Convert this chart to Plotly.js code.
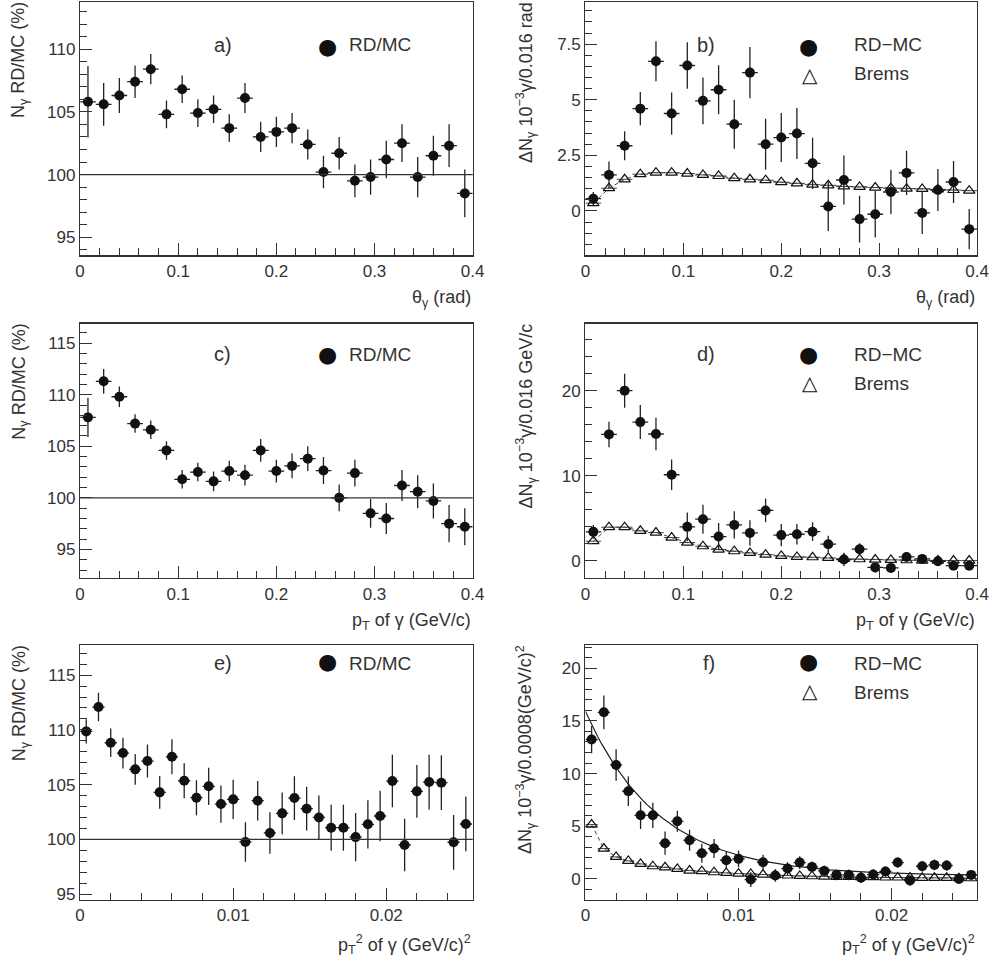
<!DOCTYPE html>
<html><head><meta charset="utf-8">
<script src="https://cdn.plot.ly/plotly-3.0.1.min.js"></script>
<style>body{margin:0;background:#fff}#plot{width:989px;height:960px}</style>
</head><body><div id="plot"></div>
<script>
// bin centres
const theta = [];
for (let i = 0; i < 25; i++) theta.push(+(0.008 + 0.016 * i).toFixed(3));
const pt2 = [];
for (let i = 0; i < 32; i++) pt2.push(+(0.0004 + 0.0008 * i).toFixed(4));

// a) RD/MC vs theta
const aVal = [105.8,105.6,106.3,107.4,108.4,104.8,106.8,104.9,105.2,103.7,106.1,103.0,103.4,103.7,102.4,100.2,101.7,99.5,99.8,101.2,102.5,99.8,101.5,102.3,98.5];
const aErr = [2.85,1.7,1.4,1.3,1.2,1.1,1.1,1.1,1.1,1.1,1.2,1.2,1.2,1.2,1.2,1.3,1.3,1.3,1.4,1.5,1.5,1.6,1.6,1.7,1.9];
// b) RD-MC and Brems vs theta
const bVal = [0.55,1.62,2.93,4.6,6.73,4.38,6.54,4.95,5.45,3.9,6.22,3.0,3.3,3.48,2.14,0.2,1.39,-0.37,-0.15,0.85,1.71,-0.09,0.94,1.3,-0.82];
const bErr = [0.3,0.6,0.65,0.75,0.9,0.95,1.05,1.05,1.1,1.1,1.15,1.15,1.1,1.15,1.15,1.1,1.1,1.05,1.05,1.0,1.0,0.95,0.95,0.95,0.9];
const bBrems = [0.35,1.02,1.42,1.65,1.72,1.72,1.68,1.62,1.57,1.47,1.42,1.38,1.29,1.24,1.18,1.15,1.1,1.08,1.05,1.02,1.0,0.99,0.97,0.94,0.91];
// c) RD/MC vs pT
const cVal = [107.8,111.3,109.8,107.2,106.6,104.6,101.8,102.5,101.6,102.6,102.2,104.6,102.6,103.1,103.8,102.65,100.0,102.4,98.5,98.0,101.2,100.6,99.7,97.5,97.2];
const cErr = [1.9,1.2,1.0,0.9,0.9,0.9,0.9,0.9,0.95,1.0,1.0,1.1,1.1,1.2,1.2,1.3,1.3,1.3,1.4,1.5,1.5,1.6,1.7,1.8,1.8];
// d) RD-MC and Brems vs pT
const dVal = [3.38,14.85,20.0,16.3,14.9,10.1,3.97,4.87,2.83,4.2,3.26,5.9,3.0,3.1,3.4,1.93,0.12,1.34,-0.8,-0.86,0.43,0.2,-0.08,-0.6,-0.6];
const dErr = [0.8,1.5,2.0,2.0,1.9,1.8,1.7,1.7,1.6,1.6,1.5,1.4,1.3,1.2,1.1,1.0,0.8,0.7,0.6,0.5,0.4,0.3,0.3,0.3,0.3];
const dBrems = [2.28,3.93,3.93,3.5,3.3,2.71,2.12,1.69,1.3,1.1,0.9,0.7,0.55,0.43,0.39,0.31,0.2,0.16,0.12,0.08,0.04,0,0,0,0];
// e) RD/MC vs pT^2
const eVal = [109.86,112.08,108.82,107.88,106.39,107.15,104.29,107.54,105.35,103.8,104.84,103.22,103.65,99.76,103.53,100.58,102.37,103.77,102.8,102.0,101.06,101.06,100.2,101.37,102.13,105.32,99.48,104.38,105.23,105.17,99.73,101.4];
const eErr = [1.1,1.3,1.3,1.4,1.4,1.5,1.5,1.6,1.6,1.6,1.7,1.7,1.8,1.8,1.8,1.9,1.9,2.0,2.0,2.0,2.1,2.1,2.2,2.2,2.3,2.4,2.4,2.4,2.5,2.5,2.5,2.5];
// f) RD-MC and Brems vs pT^2
const fVal = [13.23,15.82,10.82,8.32,6.04,6.04,3.39,5.47,3.67,2.44,2.88,1.77,1.9,-0.06,1.58,0.32,0.98,1.55,1.14,0.76,0.38,0.38,0.1,0.41,0.7,1.55,-0.16,1.2,1.33,1.27,0,0.38];
const fErr = [1.3,1.6,1.5,1.4,1.3,1.2,1.1,1.0,1.0,0.9,0.9,0.8,0.8,0.7,0.7,0.6,0.6,0.6,0.5,0.5,0.5,0.5,0.5,0.5,0.5,0.5,0.5,0.5,0.5,0.5,0.4,0.4];
const fBrems = [5.16,2.88,2.09,1.71,1.42,1.2,1.1,0.95,0.79,0.73,0.63,0.57,0.5,0.47,0.41,0.35,0.32,0.28,0.25,0.22,0.19,0.19,0.16,0.16,0.13,0.13,0.13,0.1,0.1,0.1,0.06,0.06];
// exponential fit on f): A*exp(-x/tau)+c
const fitA = 15.6, fitTau = 0.0048, fitC = 0.3;
const fitX = [];
for (let i = 0; i <= 128; i++) fitX.push(i * 0.0002);
const fitY = fitX.map(x => fitA * Math.exp(-x / fitTau) + fitC);

const FONT = 'Liberation Sans, Arial, sans-serif';
const txt = {family: FONT, size: 17, color: '#333'};

function pts(x, y, err, halfBin, ax) {
  return {x: x, y: y, xaxis: 'x' + ax, yaxis: 'y' + ax, type: 'scatter', mode: 'markers',
    marker: {symbol: 'circle', size: 10, color: '#111'},
    error_y: {type: 'data', array: err, color: '#222', thickness: 1.3, width: 0},
    error_x: {type: 'constant', value: halfBin, color: '#222', thickness: 1.3, width: 0},
    showlegend: false, hoverinfo: 'skip'};
}
function brems(x, y, halfBin, ax) {
  return {x: x, y: y, xaxis: 'x' + ax, yaxis: 'y' + ax, type: 'scatter', mode: 'lines+markers',
    line: {color: '#444', width: 1, dash: '4px,3px'},
    marker: {symbol: 'triangle-up-open', size: 10, color: '#111', line: {width: 1.2}},
    error_x: {type: 'constant', value: halfBin, color: '#444', thickness: 1, width: 0},
    showlegend: false, hoverinfo: 'skip'};
}

const data = [
  pts(theta, aVal, aErr, 0.008, ''),
  brems(theta, bBrems, 0.008, '2'), pts(theta, bVal, bErr, 0.008, '2'),
  pts(theta, cVal, cErr, 0.008, '3'),
  brems(theta, dBrems, 0.008, '4'), pts(theta, dVal, dErr, 0.008, '4'),
  pts(pt2, eVal, eErr, 0.0004, '5'),
  brems(pt2, fBrems, 0.0004, '6'),
  {x: fitX, y: fitY, xaxis: 'x6', yaxis: 'y6', type: 'scatter', mode: 'lines',
   line: {color: '#222', width: 1.2}, showlegend: false, hoverinfo: 'skip'},
  pts(pt2, fVal, fErr, 0.0004, '6')
];

const colL = [0.081, 0.478], colR = [0.592, 0.988];
const rows = [[0.734, 0.998], [0.398, 0.663], [0.063, 0.328]];

function xa(dom, range, dtick, minor, anchor) {
  return {domain: dom, range: range, dtick: dtick, tick0: 0, anchor: anchor, ticks: 'inside', ticklen: 12,
    tickcolor: '#333', showline: true, linecolor: '#333', linewidth: 1.3, mirror: true,
    showgrid: false, zeroline: false, tickfont: txt, tickformat: '~g',
    minor: {dtick: minor, ticks: 'inside', ticklen: 7, tickcolor: '#333', showgrid: false}};
}
const layout = {
  width: 989, height: 960, margin: {l: 0, r: 0, t: 0, b: 0},
  paper_bgcolor: '#fff', plot_bgcolor: '#fff', font: txt,
  xaxis: xa(colL, [0, 0.4001], 0.1, 0.02, 'y'),
  yaxis: xa(rows[0], [93.56, 113.76], 5, 1, 'x'),
  xaxis2: xa(colR, [0, 0.4001], 0.1, 0.02, 'y2'),
  yaxis2: xa(rows[0], [-2.0, 9.4], 2.5, 0.5, 'x2'),
  xaxis3: xa(colL, [0, 0.4001], 0.1, 0.02, 'y3'),
  yaxis3: xa(rows[1], [92.24, 116.9], 5, 1, 'x3'),
  xaxis4: xa(colR, [0, 0.4001], 0.1, 0.02, 'y4'),
  yaxis4: xa(rows[1], [-2.04, 27.9], 10, 2, 'x4'),
  xaxis5: xa(colL, [0, 0.02565], 0.01, 0.002, 'y5'),
  yaxis5: xa(rows[2], [94.5, 117.74], 5, 1, 'x5'),
  xaxis6: xa(colR, [0, 0.02559], 0.01, 0.002, 'y6'),
  yaxis6: xa(rows[2], [-1.96, 22.2], 5, 1, 'x6'),
  shapes: [['', rows[0]], ['3', rows[1]], ['5', rows[2]]].map(s => ({
    type: 'line', xref: 'x' + s[0] + ' domain', yref: 'y' + s[0], x0: 0, x1: 1, y0: 100, y1: 100,
    line: {color: '#333', width: 1.2}})),
  annotations: []
};

const panels = [
  {c: colL, r: rows[0], lab: 'a)', leg: ['RD/MC'], xt: 'θ<sub>γ</sub> (rad)', yt: 'N<sub>γ</sub> RD/MC (%)'},
  {c: colR, r: rows[0], lab: 'b)', leg: ['RD−MC', 'Brems'], xt: 'θ<sub>γ</sub> (rad)', yt: 'ΔN<sub>γ</sub> 10<sup>−3</sup>γ/0.016 rad'},
  {c: colL, r: rows[1], lab: 'c)', leg: ['RD/MC'], xt: 'p<sub>T</sub> of γ (GeV/c)', yt: 'N<sub>γ</sub> RD/MC (%)'},
  {c: colR, r: rows[1], lab: 'd)', leg: ['RD−MC', 'Brems'], xt: 'p<sub>T</sub> of γ (GeV/c)', yt: 'ΔN<sub>γ</sub> 10<sup>−3</sup>γ/0.016 GeV/c'},
  {c: colL, r: rows[2], lab: 'e)', leg: ['RD/MC'], xt: 'p<sub>T</sub><sup>2</sup> of γ (GeV/c)<sup>2</sup>', yt: 'N<sub>γ</sub> RD/MC (%)'},
  {c: colR, r: rows[2], lab: 'f)', leg: ['RD−MC', 'Brems'], xt: 'p<sub>T</sub><sup>2</sup> of γ (GeV/c)<sup>2</sup>', yt: 'ΔN<sub>γ</sub> 10<sup>−3</sup>γ/0.0008(GeV/c)<sup>2</sup>'}
];
const A = layout.annotations;
panels.forEach(p => {
  const w = p.c[1] - p.c[0], h = p.r[1] - p.r[0];
  const fx = f => p.c[0] + f * w, fy = f => p.r[1] - f * h;
  A.push({xref: 'paper', yref: 'paper', x: fx(0.335), y: fy(0.12), text: p.lab, showarrow: false,
    font: {family: FONT, size: 20, color: '#333'}});
  A.push({xref: 'paper', yref: 'paper', x: fx(0.60), y: fy(0.12), text: '●', showarrow: false,
    font: {family: 'DejaVu Sans', size: 22, color: '#111'}});
  A.push({xref: 'paper', yref: 'paper', x: fx(0.68), y: fy(0.12), xanchor: 'left', text: p.leg[0],
    showarrow: false, font: {family: FONT, size: 19, color: '#333'}});
  if (p.leg[1]) {
    A.push({xref: 'paper', yref: 'paper', x: fx(0.60), y: fy(0.235), text: '△', showarrow: false,
      font: {family: 'DejaVu Sans', size: 20, color: '#111'}});
    A.push({xref: 'paper', yref: 'paper', x: fx(0.68), y: fy(0.235), xanchor: 'left', text: p.leg[1],
      showarrow: false, font: {family: FONT, size: 19, color: '#333'}});
  }
  A.push({xref: 'paper', yref: 'paper', x: p.c[1], y: p.r[0], yshift: -30, xanchor: 'right', yanchor: 'top',
    text: p.xt, showarrow: false, font: {family: FONT, size: 18, color: '#333'}});
  A.push({xref: 'paper', yref: 'paper', x: p.c[0], xshift: -60, y: p.r[1], yshift: 2, yanchor: 'top',
    xanchor: 'center', textangle: -90, text: p.yt, showarrow: false, font: {family: FONT, size: 18, color: '#333'}});
});

Plotly.newPlot('plot', data, layout, {staticPlot: true});
</script>
</body></html>
